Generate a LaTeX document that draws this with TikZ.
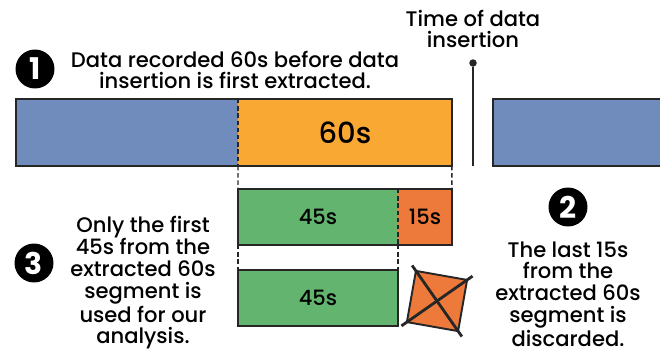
\documentclass[tikz,border=0pt]{standalone}
\usepackage{fontspec}
\setmainfont{Poppins}[UprightFont={* Medium}, BoldFont={* Bold}]
\usetikzlibrary{positioning}
\definecolor{pastblue}{RGB}{111,140,189}
\definecolor{extorange}{RGB}{248,168,51}
\definecolor{keepgreen}{RGB}{99,180,110}
\definecolor{dropred}{RGB}{237,122,59}
\colorlet{penColor}{black!85}
\tikzset{
  seg/.style={rectangle, inner sep=0pt, outer sep=0pt, anchor=north west,
    font=\fontsize{12}{12}\selectfont},
  frame/.style={penColor, line width=1.1pt},
  cut/.style={penColor, line width=0.8pt, dash pattern=on 2.5pt off 1.6pt},
  num/.style={circle, fill=black, text=white, minimum size=0.78cm, inner sep=0pt,
    font=\bfseries\fontsize{17}{17}\selectfont},
  note/.style={align=center, inner sep=0pt, font=\fontsize{12}{12.4}\selectfont},
}

\begin{document}
\begin{tikzpicture}[x=0.02cm, y=-0.02cm]
\useasboundingbox (0,0) rectangle (660,352);

% recording timeline
\node[seg, fill=pastblue, minimum width=4.44cm, minimum height=1.34cm] (past) at (16,99) {};
\node[seg, fill=extorange, minimum width=4.28cm, minimum height=1.34cm,
  font=\fontsize{16.5}{16}\selectfont] (seg60) at (past.north east) {60s};
\node[seg, fill=pastblue, minimum width=3.34cm, minimum height=1.34cm] (after) at (493,99) {};
\draw[frame] (past.north east) -- (past.north west) -- (past.south west)
  -- (seg60.south east) -- (seg60.north east) -- cycle;
\draw[cut] (past.north east) -- (past.south east);
\draw[frame] (after.north east) -- (after.north west) -- (after.south west) -- (after.south east);

% time of insertion
\node[circle, fill=penColor, inner sep=0pt, minimum size=0.15cm] (tdot) at (473,63) {};
\draw[frame] (tdot) -- (tdot |- seg60.south);
\node[note] (tlabel) at (473,29) {Time of data\\insertion};

% split of the extracted segment
\node[seg, fill=keepgreen, minimum width=3.2cm, minimum height=1.12cm] (keep) at (238,189) {45s};
\node[seg, fill=dropred, minimum width=1.08cm, minimum height=1.12cm] (drop) at (keep.north east) {15s};
\draw[frame] (keep.north east) -- (keep.north west) -- (keep.south west)
  -- (drop.south east) -- (drop.north east) -- cycle;
\draw[cut] (keep.north east) -- (keep.south east);
\draw[cut] (seg60.south west) -- (keep.north west);
\draw[cut] (seg60.south east) -- (drop.north east);

% kept part and discarded part
\node[seg, fill=keepgreen, draw=penColor, line width=1.1pt, minimum width=3.2cm,
  minimum height=1.12cm] (used) at (238,270) {45s};
\draw[cut] (keep.south west) -- (used.north west);
\draw[cut] (keep.south east) -- (used.north east);
\node[rectangle, fill=dropred, draw=penColor, line width=1.1pt, minimum size=1.04cm,
  rotate=-10] (gone) at (437,301) {};
\draw[penColor, line width=1.6pt, shorten <=-3pt, shorten >=-3pt] (gone.north west) -- (gone.south east);
\draw[penColor, line width=1.6pt, shorten <=-3pt, shorten >=-3pt] (gone.north east) -- (gone.south west);

% steps
\node[num] (n1) at (35,69) {1};
\node[num] (n2) at (568,207) {2};
\node[num] (n3) at (34,263) {3};
\node[note] (t1) at (235,70) {Data recorded 60s before data\\insertion is first extracted.};
\node[note] (t2) at (568,294) {The last 15s\\from the\\extracted 60s\\segment is\\discarded.};
\node[note] (t3) at (143,283) {Only the first\\45s from the\\extracted 60s\\segment is\\used for our\\analysis.};
\end{tikzpicture}
\end{document}
